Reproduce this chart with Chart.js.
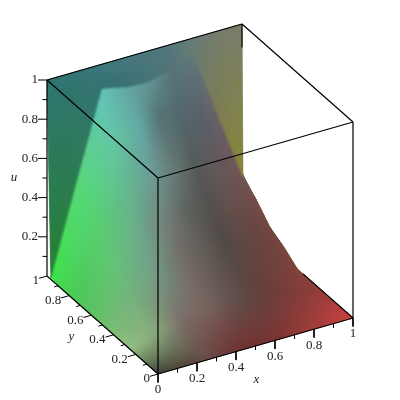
<!DOCTYPE html>
<html>
<head>
<meta charset="utf-8">
<title>u(x,y)</title>
<script src="https://cdn.jsdelivr.net/npm/chart.js@4"></script>
<style>
  html, body { margin: 0; padding: 0; background: #fff; }
  canvas { display: block; }
</style>
</head>
<body>
<canvas id="plot" width="400" height="400"></canvas>
<script>
// Surface values
const sheetX = [0, 0.13, 0.26, 0.4, 0.5, 0.62, 0.73, 0.86, 1];
const crestX = [0, 0.13, 0.26, 0.4, 0.5, 0.62, 0.73, 0.86, 0.985];
const sheetY = [0, 0.25, 0.5, 0.62, 0.75, 0.87, 0.965];
const sheetU = [
  [0, 0, 0, 0, 0, 0, 0, 0, 0],
  [0, 0.05, 0.09, 0.11, 0.11, 0.1, 0.08, 0.04, 0],
  [0, 0.12, 0.2, 0.25, 0.26, 0.25, 0.2, 0.11, 0],
  [0, 0.2, 0.31, 0.37, 0.38, 0.37, 0.31, 0.18, 0.05],
  [0, 0.3, 0.45, 0.52, 0.54, 0.52, 0.45, 0.28, 0.09],
  [0, 0.42, 0.65, 0.72, 0.74, 0.72, 0.65, 0.42, 0.167],
  [0.01, 0.46, 0.9, 0.87, 0.865, 0.9, 0.95, 0.585, 0.24]
];
// last row of the surface, where u reaches 1
const edgeX = [0, 0.13, 0.26, 0.4, 0.5, 0.62, 0.73, 0.86, 1];
const edgeY = 1;
const edgeU = 1;

// Axis ticks
const uTicks = [0.2, 0.4, 0.6, 0.8, 1];
const yTicks = [0, 0.2, 0.4, 0.6, 0.8, 1];
const xTicks = [0, 0.2, 0.4, 0.6, 0.8, 1];
const minorTicks = [0.1, 0.3, 0.5, 0.7, 0.9];

// Shading at each surface node, same layout as sheetU
const sheetShade = [
  [[60,65,55],[80,70,60],[105,75,70],[110,50,50],[115,48,48],[125,52,52],[145,58,55],[175,62,60],[205,68,68]],
  [[150,190,130],[135,170,125],[125,110,105],[120,100,95],[100,85,80],[95,70,65],[110,62,58],[130,62,58],[155,62,58]],
  [[110,190,110],[115,180,125],[115,160,135],[115,110,105],[100,95,90],[82,75,70],[95,72,68],[110,68,62],[125,70,60]],
  [[90,195,95],[100,195,120],[110,170,140],[115,125,120],[95,100,95],[85,80,78],[100,80,75],[105,70,65],[120,70,62]],
  [[75,200,85],[90,205,110],[100,185,140],[110,155,150],[105,125,120],[85,90,90],[100,90,90],[110,80,75],[115,70,65]],
  [[70,215,80],[85,215,120],[100,200,160],[100,170,165],[85,115,115],[85,105,110],[90,95,105],[110,90,95],[115,80,75]],
  [[60,230,70],[90,215,120],[100,195,185],[100,165,160],[100,150,150],[85,115,120],[100,122,122],[105,95,105],[120,90,80]]
];
// Shading of the steep strip between the crest and the u=1 edge
const crestShade = [[40,130,50],[45,125,80],[50,115,115],[60,110,115],[70,115,120],[85,115,120],[105,125,115],[125,125,80],[135,135,55]];
const edgeShade = [[45,120,115],[50,115,115],[60,120,125],[70,120,125],[75,120,125],[85,120,125],[100,125,120],[115,125,110],[125,125,105]];

// Orthographic view of the unit box, in screen units
const viewOrigin = [158, 374];
const viewX = [195, -56];
const viewY = [-111, -98];
const viewU = [0, -196];

function project(x, y, u) {
    return {
        x: viewOrigin[0] + x * viewX[0] + y * viewY[0] + u * viewU[0],
        y: viewOrigin[1] + x * viewX[1] + y * viewY[1] + u * viewU[1]
    };
}

const gap = { x: NaN, y: NaN };

// Box edges
const boxEdges = [
    [[0, 1, 0], [0, 1, 1]], [[0, 1, 1], [0, 0, 1]], [[0, 0, 1], [1, 0, 1]], [[1, 0, 1], [1, 1, 1]],
    [[1, 1, 1], [0, 1, 1]], [[0, 0, 1], [0, 0, 0]], [[1, 0, 1], [1, 0, 0]], [[0, 0, 0], [1, 0, 0]],
    [[0, 0, 0], [0, 1, 0]], [[1, 1, 1], [1, 1, 0.88]], [[1, 0, 0], [1, 0.45, 0]]
];
const boxPoints = [];
boxEdges.forEach(edge => {
    boxPoints.push(project(...edge[0]), project(...edge[1]), gap);
});

// Tick marks
const tickPoints = [];
function addTick(p, dx, dy) {
    tickPoints.push(p, { x: p.x + dx, y: p.y + dy }, gap);
}
uTicks.forEach(v => addTick(project(0, 1, v), -9, 0));
minorTicks.forEach(v => addTick(project(0, 1, v), -4.5, 0));
yTicks.forEach(v => addTick(project(0, v, 0), -8, 2.3));
minorTicks.forEach(v => addTick(project(0, v, 0), -4, 1.15));
xTicks.forEach(v => addTick(project(v, 0, 0), 0, 8.5));
minorTicks.forEach(v => addTick(project(v, 0, 0), 0, 4));

function mix(a, b, t) {
    return a + (b - a) * t;
}

// Paint one row of cells between two rows of nodes, blending position and shade
function paintStrip(ctx, sx, sy, lowNodes, highNodes, lowShade, highShade) {
    const steps = 10;
    for (let i = 0; i < lowNodes.length - 1; i++) {
        for (let a = 0; a < steps; a++) {
            for (let b = 0; b < steps; b++) {
                const corner = (s, t) => {
                    const x0 = mix(lowNodes[i].x, lowNodes[i + 1].x, s);
                    const y0 = mix(lowNodes[i].y, lowNodes[i + 1].y, s);
                    const x1 = mix(highNodes[i].x, highNodes[i + 1].x, s);
                    const y1 = mix(highNodes[i].y, highNodes[i + 1].y, s);
                    return [sx.getPixelForValue(mix(x0, x1, t)), sy.getPixelForValue(mix(y0, y1, t))];
                };
                const s = (a + 0.5) / steps;
                const t = (b + 0.5) / steps;
                const rgb = [0, 1, 2].map(k => {
                    const c0 = mix(lowShade[i][k], lowShade[i + 1][k], s);
                    const c1 = mix(highShade[i][k], highShade[i + 1][k], s);
                    return Math.round(mix(c0, c1, t));
                });
                const color = `rgb(${rgb[0]},${rgb[1]},${rgb[2]})`;
                const quad = [
                    corner(a / steps, b / steps),
                    corner((a + 1) / steps, b / steps),
                    corner((a + 1) / steps, (b + 1) / steps),
                    corner(a / steps, (b + 1) / steps)
                ];
                ctx.beginPath();
                quad.forEach((p, n) => n ? ctx.lineTo(p[0], p[1]) : ctx.moveTo(p[0], p[1]));
                ctx.closePath();
                ctx.fillStyle = color;
                ctx.strokeStyle = color;
                ctx.lineWidth = 0.7;
                ctx.fill();
                ctx.stroke();
            }
        }
    }
}

const surfacePlugin = {
    id: 'surface',
    beforeDatasetsDraw(chart) {
        const ctx = chart.ctx;
        const sx = chart.scales.x;
        const sy = chart.scales.y;
        const lastRow = sheetY.length - 1;
        const lastCol = sheetX.length - 1;
        const rows = sheetY.map((y, r) => sheetU[r].map((u, c) => {
            const xs = r === lastRow ? crestX : sheetX;
            return project(xs[c], y, u);
        }));
        const edgeRow = edgeX.map(x => project(x, edgeY, edgeU));

        // paint on a spare canvas first, so the cell joins can be smoothed away
        const spare = document.createElement('canvas');
        spare.width = chart.width;
        spare.height = chart.height;
        const sctx = spare.getContext('2d');
        for (let r = 0; r < lastRow; r++) {
            paintStrip(sctx, sx, sy, rows[r], rows[r + 1], sheetShade[r], sheetShade[r + 1]);
        }
        paintStrip(sctx, sx, sy, rows[lastRow], edgeRow, crestShade, edgeShade);

        const outline = [
            ...rows[0],
            ...rows.slice(1).map(row => row[lastCol]),
            ...edgeRow.slice().reverse(),
            ...rows.slice(1).reverse().map(row => row[0])
        ];
        ctx.save();
        ctx.drawImage(spare, 0, 0);
        ctx.beginPath();
        outline.forEach((p, n) => {
            const px = sx.getPixelForValue(p.x);
            const py = sy.getPixelForValue(p.y);
            if (n) ctx.lineTo(px, py); else ctx.moveTo(px, py);
        });
        ctx.closePath();
        ctx.clip();
        ctx.filter = 'blur(1px)';
        ctx.drawImage(spare, 0, 0);
        ctx.restore();
    }
};

const labelPlugin = {
    id: 'axisText',
    afterDatasetsDraw(chart) {
        const ctx = chart.ctx;
        const sx = chart.scales.x;
        const sy = chart.scales.y;
        const put = (text, p, dx, dy, align) => {
            ctx.textAlign = align;
            ctx.fillText(text, sx.getPixelForValue(p.x) + dx, sy.getPixelForValue(p.y) + dy);
        };
        ctx.save();
        ctx.fillStyle = '#222';
        ctx.textBaseline = 'middle';
        ctx.font = '13px "Liberation Serif"';
        uTicks.forEach(v => put(String(v), project(0, 1, v), -9, 0, 'right'));
        yTicks.forEach(v => put(String(v), project(0, v, 0), -8, 5, 'right'));
        xTicks.forEach(v => put(String(v), project(v, 0, 0), 0, 16, 'center'));
        ctx.font = 'italic 13px "Liberation Serif"';
        put('u', project(0, 1, 0.5), -33, 0, 'center');
        put('y', project(0, 0.5, 0), -31, 12, 'center');
        put('x', project(0.5, 0, 0), 1, 34, 'center');
        ctx.restore();
    }
};

new Chart(document.getElementById('plot'), {
    type: 'scatter',
    data: {
        datasets: [
            { label: 'box', data: boxPoints, showLine: true, spanGaps: false, borderColor: '#000', borderWidth: 1.2, pointRadius: 0 },
            { label: 'ticks', data: tickPoints, showLine: true, spanGaps: false, borderColor: '#000', borderWidth: 1, pointRadius: 0 }
        ]
    },
    options: {
        responsive: false,
        animation: false,
        layout: { padding: 0 },
        plugins: {
            legend: { display: false },
            tooltip: { enabled: false }
        },
        scales: {
            x: { type: 'linear', display: false, min: 0, max: 400 },
            y: { type: 'linear', display: false, min: 0, max: 400, reverse: true }
        }
    },
    plugins: [surfacePlugin, labelPlugin]
});
</script>
</body>
</html>
